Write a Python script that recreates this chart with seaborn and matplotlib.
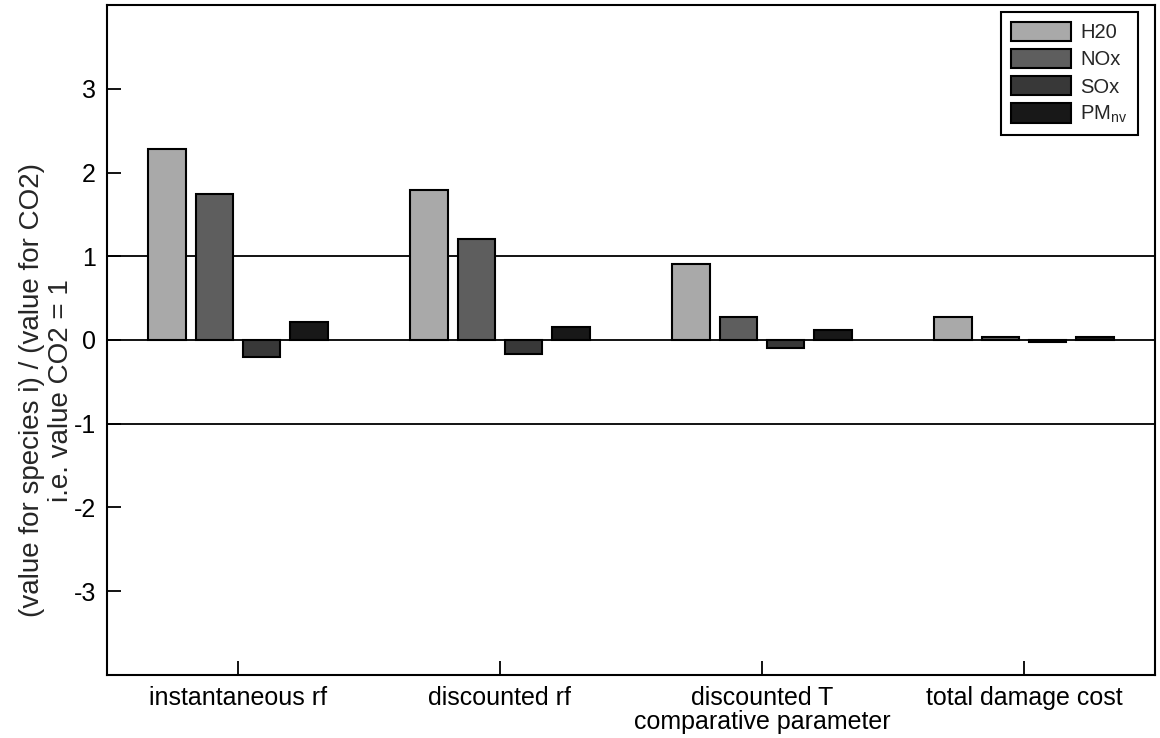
import numpy as np
import pandas as pd
import matplotlib
matplotlib.use("Agg")
import matplotlib.pyplot as plt
import seaborn as sns

# Metric ratios relative to CO2 for each emitted species
categories = ["instantaneous rf", "discounted rf",
              "discounted T\ncomparative parameter", "total damage cost"]
species = ["H20", "NOx", "SOx", "PM$_{nv}$"]
h2o = [2.28, 1.79, 0.91, 0.28]
nox = [1.74, 1.21, 0.27, 0.04]
sox = [-0.20, -0.17, -0.10, -0.02]
pm_nv = [0.22, 0.16, 0.12, 0.035]
yticks = [-3, -2, -1, 0, 1, 2, 3]

colors = ["#a9a9a9", "#5e5e5e", "#383838", "#181818"]

df = pd.DataFrame({
    "category": categories * 4,
    "species": np.repeat(species, len(categories)),
    "value": h2o + nox + sox + pm_nv,
})

sns.set_style("white")
plt.rcParams["font.family"] = ["Liberation Sans", "DejaVu Sans"]
plt.rcParams["mathtext.default"] = "regular"
plt.rcParams["axes.unicode_minus"] = False

fig = plt.figure(figsize=(11.6, 7.38), dpi=100)
ax = fig.add_axes([0.0922, 0.0854, 0.9035, 0.9078])

sns.barplot(data=df, x="category", y="value", hue="species",
            hue_order=species, order=categories, palette=colors,
            width=0.72, gap=0.2, edgecolor="black", linewidth=1.5,
            errorbar=None, ax=ax, zorder=3)

for y in (-1, 0, 1):
    ax.axhline(y, color="black", lw=1.3, zorder=2)

ax.set_xlim(-0.5, 3.5)
ax.set_ylim(-4, 4)
ax.set_yticks(yticks)
ax.set_yticklabels([str(t) for t in yticks])
ax.set_xlabel("")
ax.set_ylabel("(value for species i) / (value for CO2)\ni.e. value CO2 = 1",
              fontsize=20, linespacing=1.15)
ax.yaxis.set_label_coords(-0.031, 0.425)
ax.tick_params(axis="both", direction="in", length=10, width=1.3,
               labelsize=18, colors="black", pad=8, left=True, bottom=True)
ax.tick_params(axis="x", pad=8)
for lab in ax.get_xticklabels():
    lab.set_linespacing(1.0)
for s in ax.spines.values():
    s.set_visible(True)
    s.set_color("black")
    s.set_linewidth(1.5)

leg = ax.legend(loc="upper right", bbox_to_anchor=(0.9835, 0.99),
                fontsize=14.5, frameon=True, fancybox=False, framealpha=1,
                edgecolor="black", handlelength=3.0, handleheight=1.1,
                labelspacing=0.33, borderpad=0.5, handletextpad=0.45,
                borderaxespad=0.0)
leg.get_frame().set_linewidth(1.5)

fig.savefig("out.png", dpi=100)
